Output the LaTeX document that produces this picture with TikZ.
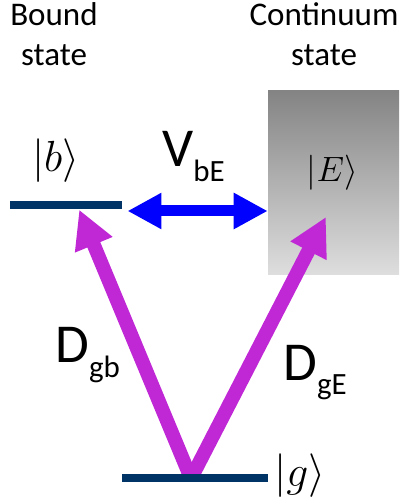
\RequirePackage{fix-cm}
\documentclass[tikz,border=0pt]{standalone}
\usepackage{fontspec}
\setmainfont{Carlito}
\usetikzlibrary{arrows.meta, positioning}
\definecolor{levnavy}{RGB}{0,51,102}
\definecolor{dipurple}{RGB}{192,40,214}
\definecolor{cplblue}{RGB}{0,0,255}
\definecolor{contdark}{RGB}{132,132,132}
\definecolor{contlight}{RGB}{222,222,222}
\newcommand{\lowsub}[1]{\raisebox{-10.5pt}{\fontsize{22}{22}\selectfont #1}}
\tikzset{
    % Levels
    levbar/.style={rectangle, fill=levnavy, inner sep=0pt,
                minimum width=#1, minimum height=0.2cm},
    contbox/.style={rectangle, inner sep=0pt, top color=contdark, bottom color=contlight,
                minimum width=3.275cm, minimum height=4.6cm},
    % Labels
    hdlbl/.style={inner sep=0pt, align=center, font=\fontsize{23.5}{28.5}\selectfont},
    ketlbl/.style={inner sep=0pt, font=\fontsize{#1}{#1}\selectfont},
    biglbl/.style={inner sep=0pt, font=\fontsize{39}{39}\selectfont},
    % Couplings
    cplarrow/.style={{Triangle[length=8.5mm, width=8.5mm]}-{Triangle[length=8.5mm, width=8.5mm]},
                line width=2.75mm, cplblue},
    diparrow/.style={-{Triangle[length=9.5mm, width=9.5mm]}, line width=3.5mm, dipurple},
}
\begin{document}
\begin{tikzpicture}
\useasboundingbox (0,0) rectangle (10.05,12.575);

\node[hdlbl, anchor=south] (bhead) at (1.35,10.93)  {Bound\\state};
\node[hdlbl, anchor=south] (chead) at (8.1,10.93)   {Continuum\\state};

\node[contbox] (cont) at (8.3375,8.0) {};
\node[levbar=2.8cm] (blev) at (1.65,7.44) {};
\coordinate (gmid) at (4.775,0.6125);

\draw[diparrow] (gmid) -- ([xshift=3.3mm]blev.south);
\draw[diparrow] (gmid) -- ([xshift=-1.9mm,yshift=-8.5mm]cont.center);
\node[levbar=3.65cm] (glev) at (4.875,0.6125) {};
\draw[cplarrow] ([xshift=1.3mm,yshift=-1.4mm]blev.east) -- ([yshift=-1.4mm]blev.east -| cont.west);

\node[ketlbl=31, anchor=base] (bket) at (1.39,8.275)      {$|b\rangle$};
\node[ketlbl=25, anchor=base] (Eket) at (8.31,8.04)       {$|E\rangle$};
\node[ketlbl=31, anchor=base west] (gket) at (6.85,0.4)   {$|g\rangle$};
\node[biglbl, anchor=base west] (vbe) at (4.05,8.4)     {V\lowsub{bE}};
\node[biglbl, anchor=base west] (dgb) at (1.375,3.5)    {D\lowsub{gb}};
\node[biglbl, anchor=base west] (dge) at (7.075,3.075)  {D\lowsub{gE}};
\end{tikzpicture}
\end{document}
